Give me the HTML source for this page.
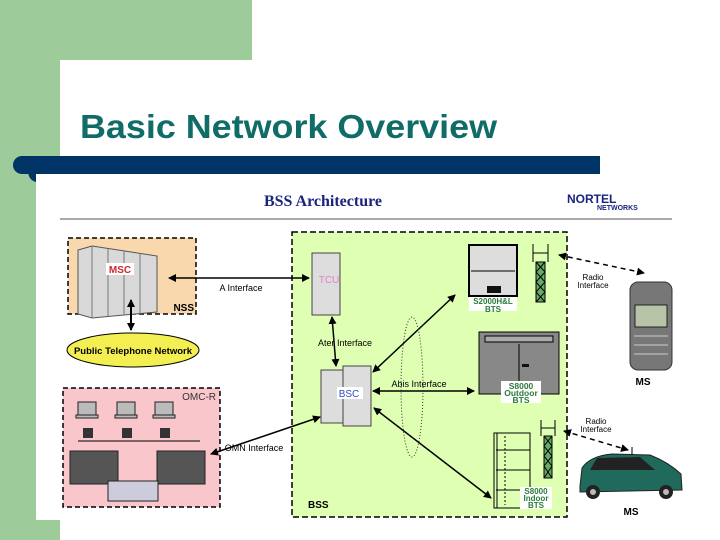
<!DOCTYPE html>
<html><head><meta charset="utf-8"><style>
html,body{margin:0;padding:0;width:720px;height:540px;overflow:hidden;background:#fff}
svg{display:block}
text{font-family:"Liberation Sans",Arial,sans-serif}
</style></head><body>
<svg width="720" height="540" viewBox="0 0 720 540">
<defs>
<marker id="a" markerWidth="8" markerHeight="8" refX="7" refY="4" orient="auto-start-reverse" markerUnits="userSpaceOnUse"><path d="M0,0 L8,4 L0,8 Z" fill="#000"/></marker>
</defs>
<rect x="0" y="0" width="252" height="60" fill="#9dcb9a"/>
<rect x="0" y="0" width="60" height="540" fill="#9dcb9a"/>
<path d="M60,540 V80 Q60,60 80,60 H720 V540 Z" fill="#fff"/>
<text x="80" y="138" font-size="33" font-weight="bold" fill="#0f6c67" textLength="417" lengthAdjust="spacingAndGlyphs">Basic Network Overview</text>
<path d="M22,156 H600 V174 H22 A9,9 0 0 1 22,156Z" fill="#003366"/>
<path d="M28,170 H36 V182 Q28,180 28,170Z" fill="#003366"/>
<rect x="36" y="174" width="684" height="346" fill="#fff"/>
<rect x="36" y="520" width="24" height="20" fill="#9dcb9a"/>
<rect x="60" y="520" width="660" height="20" fill="#fff"/>
<text x="323" y="206" font-size="16" font-weight="bold" fill="#1a237e" text-anchor="middle" style="font-family:'Liberation Serif',serif">BSS Architecture</text>
<text x="567" y="203" font-size="12" font-weight="bold" fill="#1a237e">NORTEL</text>
<text x="597" y="210" font-size="7" font-weight="bold" fill="#1a237e">NETWORKS</text>
<rect x="60" y="218" width="612" height="2" fill="#aaa"/>
<rect x="68" y="238" width="128" height="76" fill="#f9d8ae" stroke="#000" stroke-width="1.5" stroke-dasharray="5,3"/>
<path d="M78,250 L92,246 L157,256 L157,312 L92,318 L78,314 Z" fill="#d9d9d9" stroke="#555"/>
<g stroke="#777"><line x1="92" y1="246" x2="92" y2="318"/><line x1="108" y1="249" x2="108" y2="316"/><line x1="124" y1="251" x2="124" y2="315"/><line x1="140" y1="253" x2="140" y2="313"/></g>
<rect x="106" y="263" width="28" height="12" fill="#fff"/>
<text x="120" y="273" font-size="10" font-weight="bold" fill="#d0262e" text-anchor="middle">MSC</text>
<text x="194" y="311" font-size="10" font-weight="bold" text-anchor="end">NSS</text>
<line x1="131" y1="300" x2="131" y2="330" stroke="#000" stroke-width="2" marker-start="url(#a)" marker-end="url(#a)"/>
<ellipse cx="133" cy="350" rx="66" ry="17" fill="#f3ee52" stroke="#000"/>
<text x="133" y="354" font-size="9.5" font-weight="bold" text-anchor="middle">Public Telephone Network</text>
<rect x="63" y="388" width="157" height="119" fill="#f9c7cb" stroke="#000" stroke-width="1.5" stroke-dasharray="5,3"/>
<text x="216" y="400" font-size="10" fill="#333" text-anchor="end">OMC-R</text>
<g fill="#bbb" stroke="#222">
<rect x="78" y="402" width="18" height="13"/><rect x="117" y="402" width="18" height="13"/><rect x="155" y="402" width="18" height="13"/>
<rect x="76" y="415" width="22" height="3"/><rect x="115" y="415" width="22" height="3"/><rect x="153" y="415" width="22" height="3"/>
</g>
<g fill="#333"><rect x="83" y="428" width="10" height="10"/><rect x="122" y="428" width="10" height="10"/><rect x="160" y="428" width="10" height="10"/></g>
<line x1="78" y1="441" x2="200" y2="441" stroke="#000"/>
<rect x="70" y="451" width="48" height="33" fill="#555" stroke="#222"/>
<rect x="157" y="451" width="48" height="33" fill="#555" stroke="#222"/>
<rect x="108" y="481" width="50" height="20" fill="#ccd" stroke="#222"/>
<rect x="292" y="232" width="275" height="285" fill="#dfffb3" stroke="#000" stroke-width="1.5" stroke-dasharray="6,3"/>
<text x="308" y="508" font-size="10" font-weight="bold">BSS</text>
<rect x="312" y="253" width="28" height="62" fill="#ddd" stroke="#444"/>
<text x="329" y="283" font-size="10" fill="#e080d0" text-anchor="middle">TCU</text>
<rect x="321" y="370" width="24" height="53" fill="#ddd" stroke="#444"/>
<rect x="343" y="366" width="28" height="60" fill="#ddd" stroke="#444"/>
<rect x="337" y="387" width="26" height="12" fill="#fff"/>
<text x="349" y="397" font-size="10" fill="#3050c0" text-anchor="middle">BSC</text>
<g stroke="#000" stroke-width="1.5" fill="none">
<line x1="169" y1="278" x2="309" y2="278" marker-start="url(#a)" marker-end="url(#a)"/>
<line x1="332" y1="317" x2="336" y2="366" marker-start="url(#a)" marker-end="url(#a)"/>
<line x1="373" y1="391" x2="474" y2="391" marker-start="url(#a)" marker-end="url(#a)"/>
<line x1="373" y1="372" x2="455" y2="295" marker-start="url(#a)" marker-end="url(#a)"/>
<line x1="374" y1="408" x2="491" y2="498" marker-start="url(#a)" marker-end="url(#a)"/>
<line x1="211" y1="454" x2="320" y2="417" marker-start="url(#a)" marker-end="url(#a)"/>
</g>
<ellipse cx="412" cy="387" rx="11" ry="70" fill="none" stroke="#333" stroke-dasharray="1,2"/>
<text x="241" y="291" font-size="9" text-anchor="middle">A Interface</text>
<text x="345" y="346" font-size="9" text-anchor="middle">Ater Interface</text>
<text x="419" y="387" font-size="9" text-anchor="middle">Abis Interface</text>
<text x="254" y="451" font-size="9" text-anchor="middle">OMN Interface</text>
<rect x="469" y="245" width="48" height="51" fill="#ddd" stroke="#000" stroke-width="2"/>
<line x1="471" y1="271" x2="515" y2="271" stroke="#000"/>
<rect x="487" y="286" width="14" height="7" fill="#111"/>
<rect x="469" y="297" width="48" height="14" fill="#fff"/>
<text x="493" y="304" font-size="8" font-weight="bold" fill="#2a7a3a" text-anchor="middle">S2000H&amp;L</text>
<text x="493" y="312" font-size="8" font-weight="bold" fill="#2a7a3a" text-anchor="middle">BTS</text>
<g stroke="#000" fill="none"><line x1="533" y1="244" x2="533" y2="262"/><line x1="548" y1="244" x2="548" y2="262"/><line x1="533" y1="253" x2="548" y2="253"/><rect x="536" y="262" width="9" height="40" fill="#6a6"/><path d="M536,262 L545,272 L536,282 L545,292 L536,302 M545,262 L536,272 L545,282 L536,292 L545,302"/></g>
<rect x="479" y="332" width="80" height="62" fill="#888" stroke="#000"/>
<rect x="485" y="336" width="68" height="6" fill="#aaa" stroke="#000"/>
<line x1="519" y1="344" x2="519" y2="388" stroke="#000"/>
<rect x="522" y="364" width="7" height="3" fill="#111"/>
<rect x="501" y="381" width="40" height="22" fill="#fff"/>
<text x="521" y="389" font-size="8.5" font-weight="bold" fill="#2a7a3a" text-anchor="middle">S8000</text>
<text x="521" y="396" font-size="8.5" font-weight="bold" fill="#2a7a3a" text-anchor="middle">Outdoor</text>
<text x="521" y="403" font-size="8.5" font-weight="bold" fill="#2a7a3a" text-anchor="middle">BTS</text>
<g stroke="#000" fill="none"><rect x="494" y="433" width="36" height="75"/><line x1="497" y1="433" x2="497" y2="508"/><line x1="496" y1="450" x2="530" y2="450"/><line x1="496" y1="470" x2="530" y2="470"/><line x1="496" y1="490" x2="530" y2="490"/><line x1="505" y1="436" x2="505" y2="505" stroke-dasharray="2,2"/></g>
<rect x="520" y="487" width="32" height="22" fill="#fff"/>
<text x="536" y="494" font-size="8" font-weight="bold" fill="#2a7a3a" text-anchor="middle">S8000</text>
<text x="536" y="501" font-size="8" font-weight="bold" fill="#2a7a3a" text-anchor="middle">Indoor</text>
<text x="536" y="508" font-size="8" font-weight="bold" fill="#2a7a3a" text-anchor="middle">BTS</text>
<g stroke="#000" fill="none"><line x1="541" y1="420" x2="541" y2="436"/><line x1="555" y1="420" x2="555" y2="436"/><line x1="541" y1="428" x2="555" y2="428"/><rect x="544" y="436" width="8" height="42" fill="#6a6"/><path d="M544,436 L552,446 L544,456 L552,466 L544,478 M552,436 L544,446 L552,456 L544,466 L552,478"/></g>
<g stroke="#000" stroke-width="1.5" stroke-dasharray="5,4" fill="none">
<line x1="559" y1="255" x2="644" y2="273" marker-start="url(#a)" marker-end="url(#a)"/>
<line x1="564" y1="431" x2="628" y2="450" marker-start="url(#a)" marker-end="url(#a)"/>
</g>
<text x="593" y="280" font-size="8" text-anchor="middle">Radio</text>
<text x="593" y="288" font-size="8" text-anchor="middle">Interface</text>
<text x="596" y="424" font-size="8" text-anchor="middle">Radio</text>
<text x="596" y="432" font-size="8" text-anchor="middle">Interface</text>
<rect x="630" y="282" width="42" height="88" rx="8" fill="#777" stroke="#333"/>
<rect x="635" y="305" width="32" height="22" fill="#b8c4a8" stroke="#222"/>
<g stroke="#ccc"><line x1="634" y1="336" x2="668" y2="336"/><line x1="634" y1="345" x2="668" y2="345"/><line x1="634" y1="354" x2="668" y2="354"/></g>
<text x="643" y="385" font-size="10" font-weight="bold" text-anchor="middle">MS</text>
<path d="M580,486 L582,468 Q590,456 612,454 L650,455 Q668,462 681,474 L682,490 L580,492 Z" fill="#1f6a5a" stroke="#222"/>
<path d="M590,470 L597,458 L640,457 L655,470 Z" fill="#222"/>
<circle cx="593" cy="492" r="7" fill="#222"/><circle cx="593" cy="492" r="3" fill="#bbb"/>
<circle cx="666" cy="492" r="7" fill="#222"/><circle cx="666" cy="492" r="3" fill="#bbb"/>
<line x1="632" y1="455" x2="632" y2="447" stroke="#000"/>
<text x="631" y="515" font-size="10" font-weight="bold" text-anchor="middle">MS</text>
</svg>
</body></html>
